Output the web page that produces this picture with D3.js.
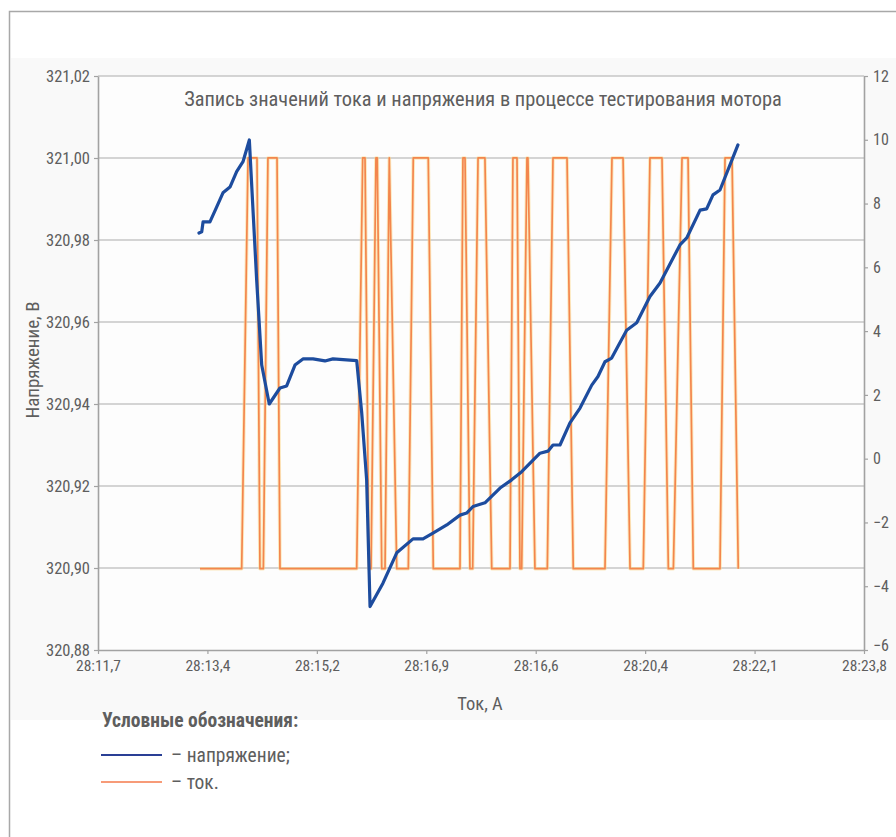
<!DOCTYPE html>
<html>
<head>
<meta charset="utf-8">
<script src="https://cdn.jsdelivr.net/npm/d3@7"></script>
<style>
  html, body { margin: 0; padding: 0; background: #ffffff; overflow: hidden; }
  svg { display: block; }
  text { font-family: "Liberation Sans Narrow", "Roboto Condensed", "DejaVu Sans Condensed", sans-serif; fill: #5e5e5e; }
</style>
</head>
<body>
<svg id="chart" width="896" height="837"></svg>
<script>
// Time-axis tick labels (as recorded, evenly spaced)
const xTickLabels = ["28:11,7", "28:13,4", "28:15,2", "28:16,9", "28:16,6", "28:20,4", "28:22,1", "28:23,8"];

// Voltage, V (left axis); x is position along the time axis in tick steps
const voltageX = [0.923, 0.948, 0.960, 1.023, 1.085, 1.142, 1.206, 1.267, 1.325, 1.383,
  1.450, 1.496, 1.565, 1.663, 1.724, 1.800, 1.873, 1.965, 2.074, 2.147,
  2.364, 2.410, 2.455, 2.486, 2.604, 2.730, 2.879, 2.970, 3.061, 3.187,
  3.308, 3.369, 3.427, 3.536, 3.674, 3.780, 3.872, 4.039, 4.112, 4.158,
  4.222, 4.313, 4.405, 4.512, 4.569, 4.633, 4.694, 4.831, 4.923, 5.044,
  5.136, 5.318, 5.380, 5.502, 5.562, 5.620, 5.684, 5.848];
const voltage = [320.9817, 320.9820, 320.9844, 320.9844, 320.9881, 320.9915, 320.9929, 320.9967, 320.9991, 321.0044,
  320.9702, 320.9495, 320.9400, 320.9439, 320.9444, 320.9495, 320.9510, 320.9510, 320.9505, 320.9510,
  320.9506, 320.9378, 320.9215, 320.8906, 320.8963, 320.9037, 320.9071, 320.9071, 320.9085, 320.9105,
  320.9129, 320.9134, 320.9150, 320.9159, 320.9195, 320.9215, 320.9235, 320.9280, 320.9285, 320.9300,
  320.9300, 320.9354, 320.9390, 320.9446, 320.9467, 320.9503, 320.9512, 320.9580, 320.9598, 320.9662,
  320.9695, 320.9788, 320.9805, 320.9873, 320.9876, 320.9910, 320.9922, 321.0032];

// Current, A (right axis)
const currentX = [0.932, 1.313, 1.371, 1.453, 1.480, 1.511, 1.553, 1.636, 1.663, 2.364,
  2.419, 2.440, 2.476, 2.495, 2.540, 2.552, 2.593, 2.623, 2.662, 2.730,
  2.836, 2.881, 3.018, 3.064, 3.308, 3.335, 3.354, 3.399, 3.424, 3.473,
  3.536, 3.598, 3.765, 3.792, 3.829, 3.856, 3.872, 3.920, 3.929, 3.993,
  4.106, 4.158, 4.286, 4.343, 4.633, 4.697, 4.798, 4.862, 4.983, 5.044,
  5.154, 5.212, 5.258, 5.337, 5.392, 5.440, 5.684, 5.730, 5.794, 5.851];
const current = [-3.45, -3.45, 9.43, 9.43, -3.45, -3.45, 9.43, 9.43, -3.45, -3.45,
  9.43, 9.43, -3.45, -3.45, 9.43, 9.43, -3.45, -3.45, 9.43, -3.45,
  -3.45, 9.43, 9.43, -3.45, -3.45, 9.43, 9.43, -3.45, -3.45, 9.43,
  9.43, -3.45, -3.45, 9.43, 9.43, -3.45, -3.45, 9.43, 9.43, -3.45,
  -3.45, 9.43, 9.43, -3.45, -3.45, 9.43, 9.43, -3.45, -3.45, 9.43,
  9.43, -3.45, -3.45, 9.43, 9.43, -3.45, -3.45, 9.43, 9.43, -3.45];

const leftTicks = [320.88, 320.90, 320.92, 320.94, 320.96, 320.98, 321.00, 321.02];
const rightTicks = [-6, -4, -2, 0, 2, 4, 6, 8, 10, 12];

const svg = d3.select("#chart");
const plot = { left: 98, right: 864, top: 76, bottom: 650 };

// Frame (open to the right and bottom) and light panel
svg.append("path").attr("d", "M9.5,837 V11.5 H896")
  .attr("fill", "none").attr("stroke", "#a8a8a8").attr("stroke-width", 1.5);
svg.append("rect").attr("x", 11).attr("y", 58).attr("width", 885).attr("height", 662)
  .attr("fill", "#f9f9f9");
svg.append("rect").attr("x", plot.left).attr("y", plot.top)
  .attr("width", plot.right - plot.left).attr("height", plot.bottom - plot.top)
  .attr("fill", "#fdfdfd");

const x = d3.scaleLinear().domain([0, xTickLabels.length - 1]).range([plot.left, plot.right]);
const yL = d3.scaleLinear().domain([320.88, 321.02]).range([plot.bottom, plot.top]);
const yR = d3.scaleLinear().domain([-6, 12]).range([plot.bottom, plot.top]);

const fmtComma = v => d3.format(".2f")(v).replace(".", ",");
const fmtMinus = v => (v < 0 ? "\u2212" + Math.abs(v) : String(v));

// Horizontal gridlines on the voltage ticks
svg.append("g").selectAll("line").data(leftTicks.slice(1)).join("line")
  .attr("x1", plot.left).attr("x2", plot.right)
  .attr("y1", d => yL(d)).attr("y2", d => yL(d))
  .attr("stroke", "#c6c6c6").attr("stroke-width", 1.3);

// Axes
function styleAxis(size) {
  return g => {
    g.select(".domain").attr("stroke", "#a2a2a2").attr("stroke-width", 1.6);
    g.selectAll(".tick line").attr("stroke", "#a2a2a2").attr("stroke-width", 1.2);
    g.selectAll(".tick text").attr("fill", "#5e5e5e").style("font-size", size);
  };
}

svg.append("g").attr("transform", `translate(${plot.left},0)`)
  .call(d3.axisLeft(yL).tickValues(leftTicks).tickFormat(fmtComma).tickSize(4).tickPadding(4).tickSizeOuter(0))
  .call(styleAxis("16.5px"));

const rightAxis = svg.append("g").attr("transform", `translate(${plot.right},0)`)
  .call(d3.axisRight(yR).tickValues(rightTicks).tickFormat(fmtMinus).tickSize(4).tickPadding(5).tickSizeOuter(0))
  .call(styleAxis("16px"));
// lowest label sits slightly above its tick, clear of the time labels
rightAxis.selectAll(".tick text").filter(d => d === rightTicks[0]).attr("dy", "0.05em");

svg.append("g").attr("transform", `translate(0,${plot.bottom})`)
  .call(d3.axisBottom(x).tickValues(d3.range(xTickLabels.length)).tickFormat(i => xTickLabels[i]).tickSize(4).tickPadding(6).tickSizeOuter(0))
  .call(styleAxis("15.5px"));

// Current trace: soft yellow halo under an orange line
const currentLine = d3.line().x((d, i) => x(currentX[i])).y(d => yR(d));
svg.append("path").datum(current).attr("d", currentLine)
  .attr("fill", "none").attr("stroke", "#fbd98c").attr("stroke-width", 3.6).attr("stroke-opacity", 0.55)
  .attr("stroke-linejoin", "round");
svg.append("path").datum(current).attr("d", currentLine)
  .attr("fill", "none").attr("stroke", "#f3864d").attr("stroke-width", 1.7)
  .attr("stroke-linejoin", "round");

// Voltage trace
const voltageLine = d3.line().x((d, i) => x(voltageX[i])).y(d => yL(d));
svg.append("path").datum(voltage).attr("d", voltageLine)
  .attr("fill", "none").attr("stroke", "#1d4c9e").attr("stroke-width", 3.2)
  .attr("stroke-linejoin", "round").attr("stroke-linecap", "round");

// Title and axis titles
svg.append("text").attr("x", 483).attr("y", 106)
  .attr("text-anchor", "middle").style("font-size", "20.4px").attr("fill", "#666")
  .text("Запись значений тока и напряжения в процессе тестирования мотора");

svg.append("text").attr("transform", `translate(39,${(plot.top + plot.bottom) / 2 - 3}) rotate(-90)`)
  .attr("text-anchor", "middle").style("font-size", "19px")
  .text("Напряжение, В");

svg.append("text").attr("x", 480).attr("y", 710)
  .attr("text-anchor", "middle").style("font-size", "18.5px")
  .text("Ток, А");

// Legend
const legend = svg.append("g");
legend.append("text").attr("x", 102).attr("y", 727).style("font-size", "19.5px").style("font-weight", "bold")
  .attr("fill", "#595959").text("Условные обозначения:");
const legendItems = [
  { label: "– напряжение;", color: "#2a3f95", y: 755 },
  { label: "– ток.", color: "#f79b78", y: 782 }
];
legendItems.forEach(item => {
  legend.append("line").attr("x1", 101).attr("x2", 162).attr("y1", item.y).attr("y2", item.y)
    .attr("stroke", item.color).attr("stroke-width", 2);
  legend.append("text").attr("x", 171).attr("y", item.y + 7).style("font-size", "19.5px").text(item.label);
});
</script>
</body>
</html>
